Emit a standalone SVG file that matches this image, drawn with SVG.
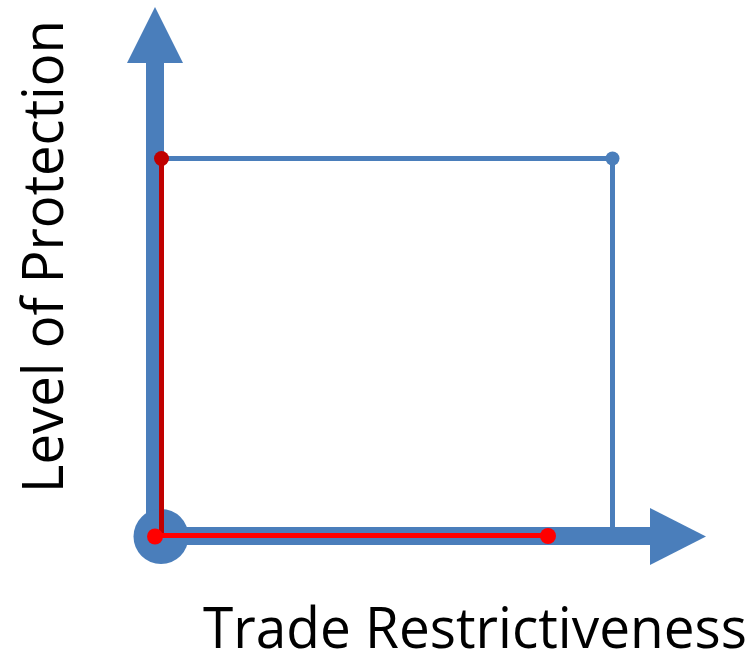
<svg xmlns="http://www.w3.org/2000/svg" width="754" height="654" viewBox="0 0 754 654">
<style>
.blue{fill:#4A7EBB}
.bline{stroke:#4A7EBB;stroke-width:5;fill:none}
.rline{stroke-width:5;fill:none}
.lbl{font-family:"Open Sans","Liberation Sans",Arial,sans-serif;font-size:56px;fill:#000}
</style>
<rect width="754" height="654" fill="#fff"/>
<g id="axes">
  <rect class="blue" x="146" y="62" width="18" height="476"/>
  <polygon class="blue" points="127,63 155,7 183,63"/>
  <rect class="blue" x="155" y="527" width="496" height="18"/>
  <polygon class="blue" points="650,508 706,536.5 650,565"/>
  <circle id="origin" class="blue" cx="161" cy="536.5" r="27.5"/>
</g>
<g id="connectors">
  <polyline class="bline" points="161,158.5 612.5,158.5 612.5,530"/>
  <line class="rline" stroke="#C00000" x1="161.5" y1="158" x2="161.5" y2="536"/>
  <line class="rline" stroke="#FF0000" x1="155" y1="535.5" x2="548" y2="535.5"/>
</g>
<g id="point-top-right"><circle class="blue" cx="612.5" cy="158.5" r="7"/></g>
<g id="point-top-left"><circle fill="#C00000" cx="161.5" cy="158.5" r="7.5"/></g>
<g id="point-origin"><circle fill="#FF0000" cx="155" cy="536.5" r="8"/></g>
<g id="point-bottom-right"><circle fill="#FF0000" cx="548" cy="536" r="8"/></g>
<g id="label-x"><text class="lbl" x="203" y="648" textLength="544" lengthAdjust="spacingAndGlyphs">Trade Restrictiveness</text></g>
<g id="label-y"><text class="lbl" transform="translate(63,493) rotate(-90)" x="0" y="0" textLength="473" lengthAdjust="spacingAndGlyphs">Level of Protection</text></g>
</svg>
